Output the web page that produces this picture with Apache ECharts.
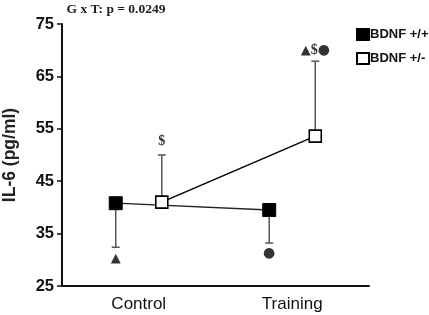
<!DOCTYPE html>
<html><head><meta charset="utf-8">
<script src="https://cdn.jsdelivr.net/npm/echarts@6/dist/echarts.min.js"></script>
<style>html,body{margin:0;padding:0;background:#fff}#c{width:429px;height:315px}</style>
</head><body><div id="c"></div>
<script>
var categories = ['Control', 'Training'];
var seriesNames = ['BDNF +/+', 'BDNF +/-'];
var wtMean = [40.8, 39.5];
var wtLow = [32.4, 33.2];
var hetMean = [41.0, 53.6];
var hetHigh = [50.0, 67.9];
var yTicks = [25, 35, 45, 55, 65, 75];
var annotations = [
  {cat: 0, grp: 0, y: 30.3, text: '{s|▲}'},
  {cat: 0, grp: 1, y: 52.6, text: '{d|$}'},
  {cat: 1, grp: 0, y: 31.3, text: '{c|●}'},
  {cat: 1, grp: 1, y: 69.9, text: '{s|▲}{d|$}{c|●}'}
];
var title = 'G x T: p = 0.0249';
var yName = 'IL-6 (pg/ml)';

var dodge = 0.3;
function xPos(cat, grp) { return 1 + cat * 2 + (grp === 0 ? -dodge : dodge); }

var wtData = wtMean.map(function (v, i) { return [xPos(i, 0), v]; });
var hetData = hetMean.map(function (v, i) { return [xPos(i, 1), v]; });
var errData = [];
wtMean.forEach(function (v, i) { errData.push([xPos(i, 0), v, wtLow[i]]); });
hetMean.forEach(function (v, i) { errData.push([xPos(i, 1), v, hetHigh[i]]); });
var annData = annotations.map(function (a) { return {value: [xPos(a.cat, a.grp), a.y], text: a.text}; });

var chart = echarts.init(document.getElementById('c'));
chart.setOption({
  animation: false,
  backgroundColor: '#fff',
  title: {
    text: title, left: 111, top: -2, textAlign: 'center',
    textStyle: {fontFamily: 'Liberation Serif', fontSize: 13.5, fontWeight: 'bold', color: '#222'}
  },
  legend: {
    orient: 'vertical', left: 351, top: 23, itemGap: 11,
    itemWidth: 12, itemHeight: 11, icon: 'rect',
    data: seriesNames,
    textStyle: {fontFamily: 'Liberation Sans', fontSize: 13, fontWeight: 'bold', color: '#111', padding: [0, 0, 0, -4]}
  },
  grid: {left: 62, right: 60, top: 24, bottom: 29, outerBoundsMode: 'none', containLabel: false},
  xAxis: {
    type: 'value', min: 0, max: 4, interval: 1,
    axisLine: {show: true, lineStyle: {color: '#111', width: 2}},
    axisTick: {show: false}, splitLine: {show: false},
    axisLabel: {
      margin: 10, fontFamily: 'Liberation Sans', fontSize: 17, color: '#111',
      formatter: function (v) { return v % 2 === 1 ? categories[(v - 1) / 2] : ''; }
    }
  },
  yAxis: {
    type: 'value', min: yTicks[0], max: yTicks[yTicks.length - 1], interval: 10,
    name: yName, nameLocation: 'middle', nameGap: 43,
    nameTextStyle: {fontFamily: 'Liberation Sans', fontSize: 17.5, fontWeight: 'bold', color: '#222'},
    axisLine: {show: true, lineStyle: {color: '#111', width: 2}},
    axisTick: {show: true, length: 5, lineStyle: {color: '#111', width: 1.5}},
    splitLine: {show: false},
    axisLabel: {margin: 8, fontFamily: 'Liberation Sans', fontSize: 16.5, fontWeight: 'bold', color: '#111'}
  },
  series: [
    {
      type: 'custom', name: 'err', z: 1,
      data: errData,
      renderItem: function (params, api) {
        var p0 = api.coord([api.value(0), api.value(1)]);
        var p1 = api.coord([api.value(0), api.value(2)]);
        return {type: 'group', children: [
          {type: 'line', shape: {x1: p0[0], y1: p0[1], x2: p1[0], y2: p1[1]}, style: {stroke: '#555', lineWidth: 1.5}},
          {type: 'line', shape: {x1: p1[0] - 4, y1: p1[1], x2: p1[0] + 4, y2: p1[1]}, style: {stroke: '#555', lineWidth: 1.5}}
        ]};
      }
    },
    {
      type: 'line', name: seriesNames[0], data: wtData, z: 3,
      symbol: 'rect', symbolSize: 13,
      lineStyle: {color: '#222', width: 1.3},
      itemStyle: {color: '#000', borderColor: '#000', borderWidth: 1}
    },
    {
      type: 'line', name: seriesNames[1], data: hetData, z: 3,
      symbol: 'rect', symbolSize: 12,
      lineStyle: {color: '#000', width: 1.5},
      itemStyle: {color: '#fff', borderColor: '#000', borderWidth: 1.6}
    },
    {
      type: 'scatter', name: 'ann', symbol: 'circle', symbolSize: 1, z: 4,
      itemStyle: {color: 'rgba(0,0,0,0)'},
      data: annData,
      label: {
        show: true, position: 'inside',
        formatter: function (p) { return p.data.text; },
        rich: {
          s: {fontFamily: 'DejaVu Sans', fontSize: 13, color: '#000'},
          c: {fontFamily: 'DejaVu Sans', fontSize: 14, color: '#000'},
          d: {fontFamily: 'Liberation Serif', fontSize: 14, fontWeight: 'bold', color: '#000'}
        }
      }
    }
  ]
});
</script></body></html>
